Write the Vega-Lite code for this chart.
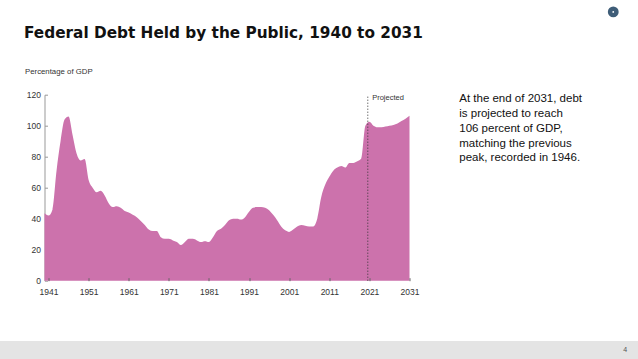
{"$schema":"https://vega.github.io/schema/vega-lite/v6.json","width":365,"height":186,"autosize":"none","padding":{"left":44.5,"top":94.7,"right":228.5,"bottom":78.3},"background":"white","view":{"stroke":null},"config":{"axis":{"labelOverlap":false,"labelBound":false,"labelFlush":false}},"title":{"text":"Federal Debt Held by the Public, 1940 to 2031","anchor":"start","frame":"group","dx":-20.5,"dy":42,"offset":0,"font":"DejaVu Sans","fontSize":15.3,"fontWeight":"bold","color":"#111111"},"datasets":{"debt":[{"year":1940,"value":43.5},{"year":1941,"value":42},{"year":1942,"value":46},{"year":1943,"value":71},{"year":1944,"value":90},{"year":1945,"value":104},{"year":1946,"value":106},{"year":1947,"value":94},{"year":1948,"value":82},{"year":1949,"value":77.5},{"year":1950,"value":78.5},{"year":1951,"value":65},{"year":1952,"value":60},{"year":1953,"value":57},{"year":1954,"value":58},{"year":1955,"value":55},{"year":1956,"value":50},{"year":1957,"value":47.5},{"year":1958,"value":48},{"year":1959,"value":47},{"year":1960,"value":45},{"year":1961,"value":44},{"year":1962,"value":42.5},{"year":1963,"value":41},{"year":1964,"value":38.5},{"year":1965,"value":36},{"year":1966,"value":33},{"year":1967,"value":32},{"year":1968,"value":32},{"year":1969,"value":28},{"year":1970,"value":27},{"year":1971,"value":27},{"year":1972,"value":26},{"year":1973,"value":25},{"year":1974,"value":23},{"year":1975,"value":25},{"year":1976,"value":27},{"year":1977,"value":27},{"year":1978,"value":26},{"year":1979,"value":25},{"year":1980,"value":25.5},{"year":1981,"value":25},{"year":1982,"value":28},{"year":1983,"value":32},{"year":1984,"value":33.5},{"year":1985,"value":36},{"year":1986,"value":39},{"year":1987,"value":40},{"year":1988,"value":40},{"year":1989,"value":39.5},{"year":1990,"value":41},{"year":1991,"value":44.5},{"year":1992,"value":47},{"year":1993,"value":47.5},{"year":1994,"value":47.5},{"year":1995,"value":47},{"year":1996,"value":45.5},{"year":1997,"value":42.5},{"year":1998,"value":39},{"year":1999,"value":35},{"year":2000,"value":32.5},{"year":2001,"value":31.5},{"year":2002,"value":33},{"year":2003,"value":35},{"year":2004,"value":36},{"year":2005,"value":35.5},{"year":2006,"value":35},{"year":2007,"value":35},{"year":2008,"value":40},{"year":2009,"value":54},{"year":2010,"value":62},{"year":2011,"value":67},{"year":2012,"value":71},{"year":2013,"value":73},{"year":2014,"value":74},{"year":2015,"value":73},{"year":2016,"value":76},{"year":2017,"value":76},{"year":2018,"value":77},{"year":2019,"value":79},{"year":2020,"value":100},{"year":2021,"value":102.5},{"year":2022,"value":100},{"year":2023,"value":99},{"year":2024,"value":99},{"year":2025,"value":99.5},{"year":2026,"value":100},{"year":2027,"value":100.5},{"year":2028,"value":101.5},{"year":2029,"value":103},{"year":2030,"value":104.5},{"year":2031,"value":106.5}]},"layer":[{"data":{"name":"debt"},"mark":{"type":"area","color":"#cc72ac","interpolate":"monotone"},"encoding":{"x":{"field":"year","type":"quantitative","scale":{"domain":[1940,2031],"nice":false,"zero":false},"axis":{"title":null,"values":[1941,1951,1961,1971,1981,1991,2001,2011,2021,2031],"format":"d","grid":false,"domain":false,"zindex":1,"tickColor":"#666666","tickSize":-3,"labelFont":"Liberation Sans","labelFontSize":8.5,"labelColor":"#333333","labelPadding":10}},"y":{"field":"value","type":"quantitative","scale":{"domain":[0,120],"nice":false},"axis":{"title":"Percentage of GDP","titleAngle":0,"titleAlign":"left","titleBaseline":"middle","titleX":-20,"titleY":-23,"titleFont":"Liberation Sans","titleFontSize":7.8,"titleFontWeight":"normal","titleColor":"#333333","tickCount":7,"labelSeparation":0,"grid":false,"domainColor":"#999999","tickColor":"#999999","tickSize":-3,"labelFont":"Liberation Sans","labelFontSize":8.5,"labelColor":"#333333","labelPadding":7}}}},{"data":{"values":[{"year":1925,"year2":2095,"value":-38.9,"value2":-60}]},"mark":{"type":"rect","color":"#e4e4e4","clip":false},"encoding":{"x":{"field":"year","type":"quantitative"},"x2":{"field":"year2"},"y":{"field":"value","type":"quantitative"},"y2":{"field":"value2"}}},{"data":{"values":[{"year":2020.6,"value":0,"value2":120}]},"mark":{"type":"rule","color":"#333333","strokeDash":[1,2],"strokeWidth":1},"encoding":{"x":{"field":"year","type":"quantitative"},"y":{"field":"value","type":"quantitative"},"y2":{"field":"value2"}}},{"data":{"values":[{"year":2021.7,"value":117.9,"label":"Projected"}]},"mark":{"type":"text","align":"left","baseline":"middle","font":"Liberation Sans","fontSize":7.5,"color":"#333333"},"encoding":{"x":{"field":"year","type":"quantitative"},"y":{"field":"value","type":"quantitative"},"text":{"field":"label"}}},{"data":{"values":[{"year":2043.4,"value":117.2,"label":"At the end of 2031, debt"},{"year":2043.4,"value":107.6,"label":"is projected to reach"},{"year":2043.4,"value":98,"label":"106 percent of GDP,"},{"year":2043.4,"value":88.4,"label":"matching the previous"},{"year":2043.4,"value":79,"label":"peak, recorded in 1946."}]},"mark":{"type":"text","align":"left","baseline":"middle","font":"Liberation Sans","fontSize":11.5,"color":"#111111","clip":false},"encoding":{"x":{"field":"year","type":"quantitative"},"y":{"field":"value","type":"quantitative"},"text":{"field":"label"}}},{"data":{"values":[{"year":2084.8,"value":-44.7,"label":"4"}]},"mark":{"type":"text","align":"center","baseline":"middle","font":"Liberation Sans","fontSize":7,"color":"#555555"},"encoding":{"x":{"field":"year","type":"quantitative"},"y":{"field":"value","type":"quantitative"},"text":{"field":"label"}}},{"data":{"values":[{"year":2081.8,"value":173.4}]},"mark":{"type":"point","shape":"circle","filled":false,"size":40,"strokeWidth":4.5,"opacity":1,"color":"#3f5d78"},"encoding":{"x":{"field":"year","type":"quantitative"},"y":{"field":"value","type":"quantitative"}}}]}
